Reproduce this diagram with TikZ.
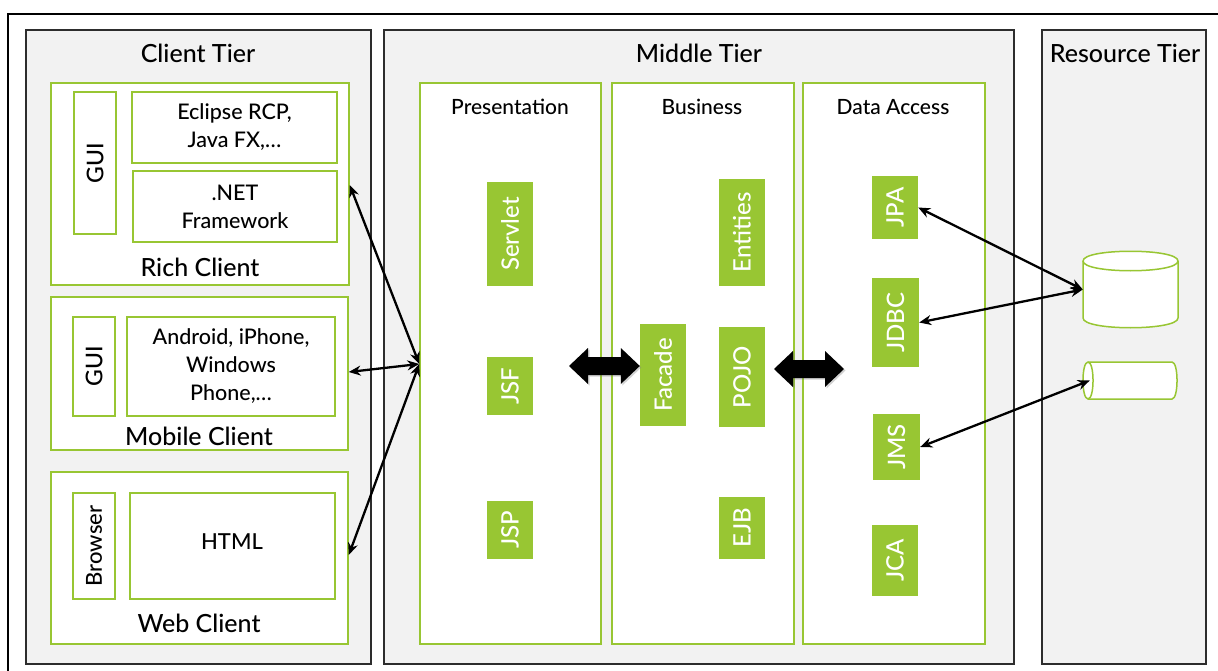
\documentclass[tikz,border=0pt]{standalone}
\usepackage{fontspec}
\setmainfont{Lato Medium}
\usetikzlibrary{arrows.meta,fit,shadows,calc}

\definecolor{panelgray}{RGB}{242,242,242}
\definecolor{tierline}{RGB}{45,45,45}
\definecolor{leaf}{RGB}{152,198,51}

% thick two-headed block arrow between two named points on one row
\newcommand\fatarrow[2]{%
  \fill[fat] (#1) -- ($(#1)+(19,-18)$) -- ($(#1)+(19,-9)$) -- ($(#2)+(-19,-9)$)
    -- ($(#2)+(-19,-18)$) -- (#2) -- ($(#2)+(-19,18)$) -- ($(#2)+(-19,9)$)
    -- ($(#1)+(19,9)$) -- ($(#1)+(19,18)$) -- cycle;}

\begin{document}
\begin{tikzpicture}[x=1pt,y=-1pt,
  tier/.style={draw=tierline, line width=1.2pt, fill=panelgray, inner sep=0pt},
  layer/.style={draw=leaf, line width=1.5pt, fill=white, inner sep=0pt},
  comp/.style={fill=leaf, inner sep=0pt},
  tiertitle/.style={font=\fontsize{25}{30}\selectfont, inner sep=0pt},
  clientname/.style={font=\fontsize{25}{30}\selectfont, inner sep=0pt},
  layertitle/.style={font=\fontsize{21}{25}\selectfont, inner sep=0pt},
  boxtext/.style={font=\fontsize{21.5}{28}\selectfont, align=center, inner sep=0pt},
  sidetext/.style={font=\fontsize{23}{28}\selectfont, rotate=90, inner sep=0pt},
  comptext/.style={font=\fontsize{24}{28}\selectfont, text=white, rotate=90, inner sep=0pt},
  link/.style={line width=2.3pt, {Stealth[length=12pt,width=10pt]}-{Stealth[length=12pt,width=10pt]}},
  fat/.style={black, drop shadow={opacity=0.35, shadow xshift=1.5pt, shadow yshift=-1.5pt}}
]
\useasboundingbox (0,0) rectangle (1218,671);
\clip (0,0) rectangle (1218,671);
\fill[white] (0,0) rectangle (1218,671);

% outer frame (runs past the page on the right and bottom)
\draw[line width=2.5pt] (8,700) -- (8,14) -- (1240,14);

% ---------------- tiers ----------------
\node[tier, fit={(26,30) (371,664)}] (client) {};
\node[tier, fit={(384,30) (1014,664)}] (middle) {};
\node[tier, fit={(1042,30) (1206,664)}] (resource) {};
\node[tiertitle] (clienttitle) at (198,53) {Client Tier};
\node[tiertitle] (middletitle) at (699,53) {Middle Tier};
\node[tiertitle] (resourcetitle) at (1125,53) {Resource Tier};

% ---------------- client tier ----------------
\node[layer, fit={(51,83) (349,285)}] (rich) {};
\node[layer, fit={(74,92) (116,234)}] (richgui) {};
\node[layer, fit={(132,92) (337,163)}] (eclipse) {};
\node[layer, fit={(133,171) (337,242)}] (dotnet) {};
\node[sidetext] at (richgui) {GUI};
\node[boxtext] at (eclipse) {Eclipse RCP,\\Java FX,\dots};
\node[boxtext] at (dotnet) {.NET\\Framework};
\node[clientname] at (200,267) {Rich Client};

\node[layer, fit={(51,297) (348,450)}] (mobile) {};
\node[layer, fit={(73,317) (115,416)}] (mobilegui) {};
\node[layer, fit={(127,317) (335,416)}] (phones) {};
\node[sidetext] at (mobilegui) {GUI};
\node[boxtext] at (phones) {Android, iPhone,\\Windows\\Phone,\dots};
\node[clientname] at (199,436) {Mobile Client};

\node[layer, fit={(51,472) (348,644)}] (web) {};
\node[layer, fit={(73,493) (115,599)}] (browser) {};
\node[layer, fit={(130,493) (335,599)}] (html) {};
\node[sidetext, font=\fontsize{22}{26}\selectfont] at (browser) {Browser};
\node[boxtext, font=\fontsize{22}{28}\selectfont] at (232,542) {HTML};
\node[clientname] at (199,623) {Web Client};

% ---------------- middle tier ----------------
\node[layer, fit={(420,83) (601,644)}] (pres) {};
\node[layer, fit={(612,83) (794,644)}] (business) {};
\node[layer, fit={(803,83) (985,644)}] (dataaccess) {};
\node[layertitle] at (510,107) {Presentation};
\node[layertitle] at (702,107) {Business};
\node[layertitle] at (893,107) {Data Access};

\node[comp, fit={(487,182) (533,286)}] (servlet) {};
\node[comp, fit={(487,357) (533,415)}] (jsf) {};
\node[comp, fit={(487,501) (533,559)}] (jsp) {};
\node[comptext] at (servlet) {Servlet};
\node[comptext] at (jsf) {JSF};
\node[comptext] at (jsp) {JSP};

\node[comp, fit={(719,179) (765,286)}] (entities) {};
\node[comp, fit={(640,324) (686,426)}] (facade) {};
\node[comp, fit={(719,327) (765,427)}] (pojo) {};
\node[comp, fit={(719,497) (765,559)}] (ejb) {};
\node[comptext] at (entities) {Entities};
\node[comptext] at (facade) {Facade};
\node[comptext] at (pojo) {POJO};
\node[comptext] at (ejb) {EJB};

\node[comp, fit={(872,176) (918,239)}] (jpa) {};
\node[comp, fit={(872,278) (919,367)}] (jdbc) {};
\node[comp, fit={(873,414) (920,480)}] (jms) {};
\node[comp, fit={(872,525) (918,596)}] (jca) {};
\node[comptext] at (jpa) {JPA};
\node[comptext] at (jdbc) {JDBC};
\node[comptext] at (jms) {JMS};
\node[comptext] at (jca) {JCA};

% ---------------- resource tier ----------------
\node[inner sep=0pt, fit={(1083,251) (1178,328)}] (db) {};
\path[layer] (1083,261) -- (1083,318) .. controls (1083,331) and (1178,331) .. (1178,318)
  -- (1178,261) .. controls (1178,248) and (1083,248) .. (1083,261) -- cycle;
\draw[draw=leaf, line width=1.5pt] (1083,261) .. controls (1083,274) and (1178,274) .. (1178,261);

\node[inner sep=0pt, fit={(1083,362) (1177,399)}] (queue) {};
\path[layer] (1088,362) -- (1172,362) .. controls (1178.7,362) and (1178.7,399) .. (1172,399)
  -- (1088,399) .. controls (1081.3,399) and (1081.3,362) .. (1088,362) -- cycle;
\draw[draw=leaf, line width=1.5pt] (1088,362) .. controls (1094.7,362) and (1094.7,399) .. (1088,399);

% ---------------- connectors ----------------
\coordinate (hub) at (pres.west |- 0,364);
\draw[link] (hub) -- (rich.east |- 0,185);
\draw[link] (hub) -- (mobile.east |- 0,372);
\draw[link] (hub) -- (web.east |- 0,555);

\coordinate (fatA1) at (569,366);
\coordinate (fatA2) at (facade.west |- 0,366);
\fatarrow{fatA1}{fatA2}
\coordinate (fatB1) at (774,369);
\coordinate (fatB2) at (844,369);
\fatarrow{fatB1}{fatB2}

\coordinate (queuein) at ($(queue.west)+(7,0)$);
\draw[link] (jpa.east) -- (db.west);
\draw[link] (jdbc.east) -- (db.west);
\draw[link] (jms.east) -- (queuein);
\end{tikzpicture}
\end{document}
